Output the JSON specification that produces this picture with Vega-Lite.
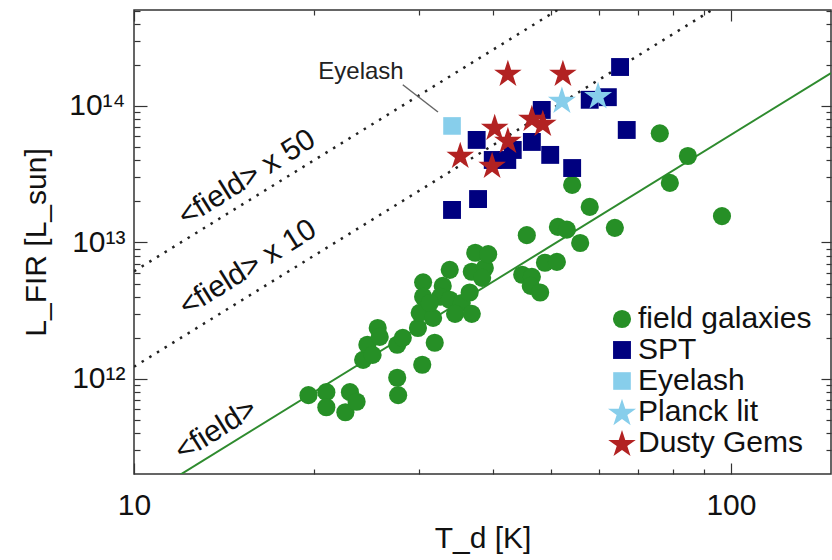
{
  "$schema": "https://vega.github.io/schema/vega-lite/v6.json",
  "width": 697,
  "height": 464,
  "autosize": {"type": "none"},
  "padding": {"left": 134, "top": 10, "right": 1, "bottom": 86},
  "background": "white",
  "config": {
    "font": "Liberation Sans",
    "view": {"stroke": "#333", "strokeWidth": 1.5},
    "axis": {
      "domain": false,
      "grid": false,
      "labelFont": "Liberation Sans",
      "labelFontSize": 30,
      "labelColor": "#111",
      "tickColor": "#333",
      "tickWidth": 1.2,
      "titleFont": "Liberation Sans",
      "titleFontSize": 30,
      "titleFontWeight": "normal",
      "titleColor": "#111"
    }
  },
  "datasets": {
    "pts": [
      {"T": 19.6, "L": 7.6e11, "cat": "field galaxies"},
      {"T": 21.0, "L": 8.0e11, "cat": "field galaxies"},
      {"T": 21.0, "L": 6.2e11, "cat": "field galaxies"},
      {"T": 22.6, "L": 5.7e11, "cat": "field galaxies"},
      {"T": 23.0, "L": 8.0e11, "cat": "field galaxies"},
      {"T": 23.6, "L": 6.8e11, "cat": "field galaxies"},
      {"T": 24.2, "L": 1.38e12, "cat": "field galaxies"},
      {"T": 24.6, "L": 1.78e12, "cat": "field galaxies"},
      {"T": 25.1, "L": 1.5e12, "cat": "field galaxies"},
      {"T": 25.6, "L": 2.36e12, "cat": "field galaxies"},
      {"T": 25.8, "L": 2.03e12, "cat": "field galaxies"},
      {"T": 27.6, "L": 1.02e12, "cat": "field galaxies"},
      {"T": 27.7, "L": 7.6e11, "cat": "field galaxies"},
      {"T": 27.6, "L": 1.78e12, "cat": "field galaxies"},
      {"T": 28.2, "L": 2.0e12, "cat": "field galaxies"},
      {"T": 29.9, "L": 2.36e12, "cat": "field galaxies"},
      {"T": 30.4, "L": 1.27e12, "cat": "field galaxies"},
      {"T": 30.1, "L": 3.05e12, "cat": "field galaxies"},
      {"T": 30.5, "L": 5.1e12, "cat": "field galaxies"},
      {"T": 30.5, "L": 4.0e12, "cat": "field galaxies"},
      {"T": 31.7, "L": 2.8e12, "cat": "field galaxies"},
      {"T": 31.9, "L": 1.84e12, "cat": "field galaxies"},
      {"T": 32.9, "L": 4.8e12, "cat": "field galaxies"},
      {"T": 32.6, "L": 4.0e12, "cat": "field galaxies"},
      {"T": 33.8, "L": 6.3e12, "cat": "field galaxies"},
      {"T": 33.8, "L": 3.8e12, "cat": "field galaxies"},
      {"T": 35.4, "L": 3.6e12, "cat": "field galaxies"},
      {"T": 36.5, "L": 4.3e12, "cat": "field galaxies"},
      {"T": 36.8, "L": 6.1e12, "cat": "field galaxies"},
      {"T": 37.3, "L": 8.4e12, "cat": "field galaxies"},
      {"T": 38.7, "L": 6.5e12, "cat": "field galaxies"},
      {"T": 38.3, "L": 5.5e12, "cat": "field galaxies"},
      {"T": 39.2, "L": 8.2e12, "cat": "field galaxies"},
      {"T": 44.7, "L": 5.8e12, "cat": "field galaxies"},
      {"T": 46.4, "L": 5.6e12, "cat": "field galaxies"},
      {"T": 46.2, "L": 4.8e12, "cat": "field galaxies"},
      {"T": 47.9, "L": 4.3e12, "cat": "field galaxies"},
      {"T": 48.8, "L": 7.1e12, "cat": "field galaxies"},
      {"T": 51.1, "L": 7.2e12, "cat": "field galaxies"},
      {"T": 45.5, "L": 1.13e13, "cat": "field galaxies"},
      {"T": 51.3, "L": 1.3e13, "cat": "field galaxies"},
      {"T": 53.1, "L": 1.24e13, "cat": "field galaxies"},
      {"T": 55.9, "L": 9.9e12, "cat": "field galaxies"},
      {"T": 54.2, "L": 2.64e13, "cat": "field galaxies"},
      {"T": 58.0, "L": 1.82e13, "cat": "field galaxies"},
      {"T": 63.9, "L": 1.28e13, "cat": "field galaxies"},
      {"T": 76.0, "L": 6.3e13, "cat": "field galaxies"},
      {"T": 84.7, "L": 4.3e13, "cat": "field galaxies"},
      {"T": 79.0, "L": 2.73e13, "cat": "field galaxies"},
      {"T": 96.6, "L": 1.56e13, "cat": "field galaxies"},
      {"T": 31.3, "L": 3.6e12, "cat": "field galaxies"},
      {"T": 34.5, "L": 3.0e12, "cat": "field galaxies"},
      {"T": 36.8, "L": 3.0e12, "cat": "field galaxies"},
      {"T": 34.1, "L": 1.73e13, "cat": "SPT"},
      {"T": 37.7, "L": 2.08e13, "cat": "SPT"},
      {"T": 37.5, "L": 5.64e13, "cat": "SPT"},
      {"T": 39.9, "L": 4.02e13, "cat": "SPT"},
      {"T": 42.2, "L": 4.02e13, "cat": "SPT"},
      {"T": 43.1, "L": 4.76e13, "cat": "SPT"},
      {"T": 46.4, "L": 5.45e13, "cat": "SPT"},
      {"T": 48.2, "L": 9.35e13, "cat": "SPT"},
      {"T": 49.8, "L": 4.38e13, "cat": "SPT"},
      {"T": 54.2, "L": 3.51e13, "cat": "SPT"},
      {"T": 58.0, "L": 1.11e14, "cat": "SPT"},
      {"T": 62.2, "L": 1.16e14, "cat": "SPT"},
      {"T": 65.2, "L": 1.93e14, "cat": "SPT"},
      {"T": 66.9, "L": 6.67e13, "cat": "SPT"},
      {"T": 34.1, "L": 7.14e13, "cat": "Eyelash"},
      {"T": 52.1, "L": 1.11e14, "cat": "Planck lit"},
      {"T": 59.9, "L": 1.2e14, "cat": "Planck lit"},
      {"T": 42.3, "L": 1.75e14, "cat": "Dusty Gems"},
      {"T": 52.3, "L": 1.75e14, "cat": "Dusty Gems"},
      {"T": 35.2, "L": 4.38e13, "cat": "Dusty Gems"},
      {"T": 39.8, "L": 3.7e13, "cat": "Dusty Gems"},
      {"T": 40.2, "L": 7.02e13, "cat": "Dusty Gems"},
      {"T": 42.3, "L": 5.64e13, "cat": "Dusty Gems"},
      {"T": 46.4, "L": 8.17e13, "cat": "Dusty Gems"},
      {"T": 48.4, "L": 7.51e13, "cat": "Dusty Gems"}
    ],
    "rel": [
      {"T": 11.5, "L": 1.79e11, "series": "field"},
      {"T": 147.1, "L": 1.744e14, "series": "field"},
      {"T": 10, "L": 1.227e12, "series": "x10"},
      {"T": 93, "L": 5.06e14, "series": "x10"},
      {"T": 10, "L": 6.14e12, "series": "x50"},
      {"T": 51.5, "L": 5.13e14, "series": "x50"}
    ],
    "notes": [
      {"T": 15.46, "L": 2.97e13, "text": "<field> x 50"},
      {"T": 15.52, "L": 6.5e12, "text": "<field> x 10"},
      {"T": 13.72, "L": 4.23e11, "text": "<field>"}
    ],
    "eyelashLabel": [
      {"T": 24.0, "L": 1.77e14, "text": "Eyelash"}
    ],
    "pointer": [
      {"T": 28.2, "L": 1.43e14},
      {"T": 32.3, "L": 9.03e13}
    ]
  },
  "layer": [
    {
      "layer": [
        {
          "data": {"name": "rel"},
          "transform": [{"filter": "datum.series == 'field'"}],
          "mark": {"type": "line", "clip": true, "color": "#2e8b2e", "strokeWidth": 2},
          "encoding": {
            "x": {
              "field": "T", "type": "quantitative", "title": "T_d [K]",
              "scale": {"type": "log", "domain": [10, 147.1], "nice": false},
              "axis": {
                "orient": "bottom",
                "values": [10, 20, 30, 40, 50, 60, 70, 80, 90, 100],
                "labelExpr": "datum.value == 10 ? '10' : datum.value == 100 ? '100' : ''",
                "tickSize": {"condition": {"test": "datum.value == 10 || datum.value == 100", "value": -11}, "value": -5},
                "labelPadding": 27,
                "labelFlush": false,
                "labelOverlap": false,
                "titlePadding": -3
              }
            },
            "y": {
              "field": "L", "type": "quantitative", "title": "L_FIR [L_sun]",
              "scale": {"type": "log", "domain": [2.01e11, 5.05e14], "nice": false},
              "axis": {
                "orient": "left",
                "values": [2e11, 3e11, 4e11, 5e11, 6e11, 7e11, 8e11, 9e11, 1e12, 2e12, 3e12, 4e12, 5e12, 6e12, 7e12, 8e12, 9e12, 1e13, 2e13, 3e13, 4e13, 5e13, 6e13, 7e13, 8e13, 9e13, 1e14, 2e14, 3e14, 4e14, 5e14],
                "labelExpr": "datum.value == 1e12 ? '10¹²' : datum.value == 1e13 ? '10¹³' : datum.value == 1e14 ? '10¹⁴' : ''",
                "tickSize": {"condition": {"test": "datum.value == 1e12 || datum.value == 1e13 || datum.value == 1e14", "value": -13}, "value": -6},
                "labelPadding": 22,
                "labelFlush": false,
                "labelOverlap": false,
                "titlePadding": 17
              }
            }
          }
        },
        {
          "data": {"name": "rel"},
          "transform": [{"filter": "datum.series != 'field'"}],
          "mark": {"type": "line", "clip": true, "color": "#222", "strokeWidth": 2.5, "strokeDash": [2.5, 6.5]},
          "encoding": {
            "x": {"field": "T", "type": "quantitative"},
            "y": {"field": "L", "type": "quantitative"},
            "detail": {"field": "series"}
          }
        },
        {
          "data": {"name": "pointer"},
          "mark": {"type": "line", "color": "#666", "strokeWidth": 1.5},
          "encoding": {
            "x": {"field": "T", "type": "quantitative"},
            "y": {"field": "L", "type": "quantitative"}
          }
        },
        {
          "data": {"name": "pts"},
          "mark": {"type": "point", "filled": true, "opacity": 1, "strokeWidth": 0},
          "encoding": {
            "x": {"field": "T", "type": "quantitative"},
            "y": {"field": "L", "type": "quantitative"},
            "color": {
              "field": "cat", "type": "nominal",
              "scale": {"domain": ["field galaxies", "SPT", "Eyelash", "Planck lit", "Dusty Gems"], "range": ["#268f26", "#00007f", "#87ceeb", "#87ceeb", "#b22222"]},
              "legend": {
                "title": null, "orient": "none", "legendX": 473, "legendY": 294,
                "labelFontSize": 30, "labelFont": "Liberation Sans", "labelColor": "#111", "labelLimit": 400,
                "rowPadding": 1, "labelOffset": 1, "padding": 0, "symbolStrokeWidth": 0
              }
            },
            "shape": {
              "field": "cat", "type": "nominal",
              "scale": {"domain": ["field galaxies", "SPT", "Eyelash", "Planck lit", "Dusty Gems"], "range": ["circle", "square", "square", "M0,-1.54L0.382,-0.365L1.617,-0.365L0.618,0.36L1.0,1.535L0,0.809L-1.0,1.535L-0.618,0.36L-1.617,-0.365L-0.382,-0.365Z", "M0,-1.54L0.382,-0.365L1.617,-0.365L0.618,0.36L1.0,1.535L0,0.809L-1.0,1.535L-0.618,0.36L-1.617,-0.365L-0.382,-0.365Z"]}
            },
            "size": {
              "field": "cat", "type": "nominal",
              "scale": {"domain": ["field galaxies", "SPT", "Eyelash", "Planck lit", "Dusty Gems"], "range": [330, 290, 290, 560, 560]}
            }
          }
        },
        {
          "data": {"name": "notes"},
          "mark": {"type": "text", "font": "Liberation Sans", "fontSize": 30, "angle": 328, "align": "center", "baseline": "middle", "color": "#111"},
          "encoding": {
            "x": {"field": "T", "type": "quantitative"},
            "y": {"field": "L", "type": "quantitative"},
            "text": {"field": "text"}
          }
        },
        {
          "data": {"name": "eyelashLabel"},
          "mark": {"type": "text", "font": "Liberation Sans", "fontSize": 24, "align": "center", "baseline": "middle", "color": "#222"},
          "encoding": {
            "x": {"field": "T", "type": "quantitative"},
            "y": {"field": "L", "type": "quantitative"},
            "text": {"field": "text"}
          }
        }
      ]
    },
    {
      "data": {"name": "pts"},
      "mark": {"type": "point", "opacity": 0},
      "encoding": {
        "x": {
          "field": "T", "type": "quantitative",
          "axis": {
            "orient": "top", "title": null, "labels": false,
            "values": [10, 20, 30, 40, 50, 60, 70, 80, 90, 100],
            "tickSize": {"condition": {"test": "datum.value == 10 || datum.value == 100", "value": -11}, "value": -5}
          }
        },
        "y": {
          "field": "L", "type": "quantitative",
          "axis": {
            "orient": "right", "title": null, "labels": false,
            "values": [2e11, 3e11, 4e11, 5e11, 6e11, 7e11, 8e11, 9e11, 1e12, 2e12, 3e12, 4e12, 5e12, 6e12, 7e12, 8e12, 9e12, 1e13, 2e13, 3e13, 4e13, 5e13, 6e13, 7e13, 8e13, 9e13, 1e14, 2e14, 3e14, 4e14, 5e14],
            "tickSize": {"condition": {"test": "datum.value == 1e12 || datum.value == 1e13 || datum.value == 1e14", "value": -10}, "value": -5}
          }
        }
      }
    }
  ],
  "resolve": {"axis": {"x": "independent", "y": "independent"}}
}
